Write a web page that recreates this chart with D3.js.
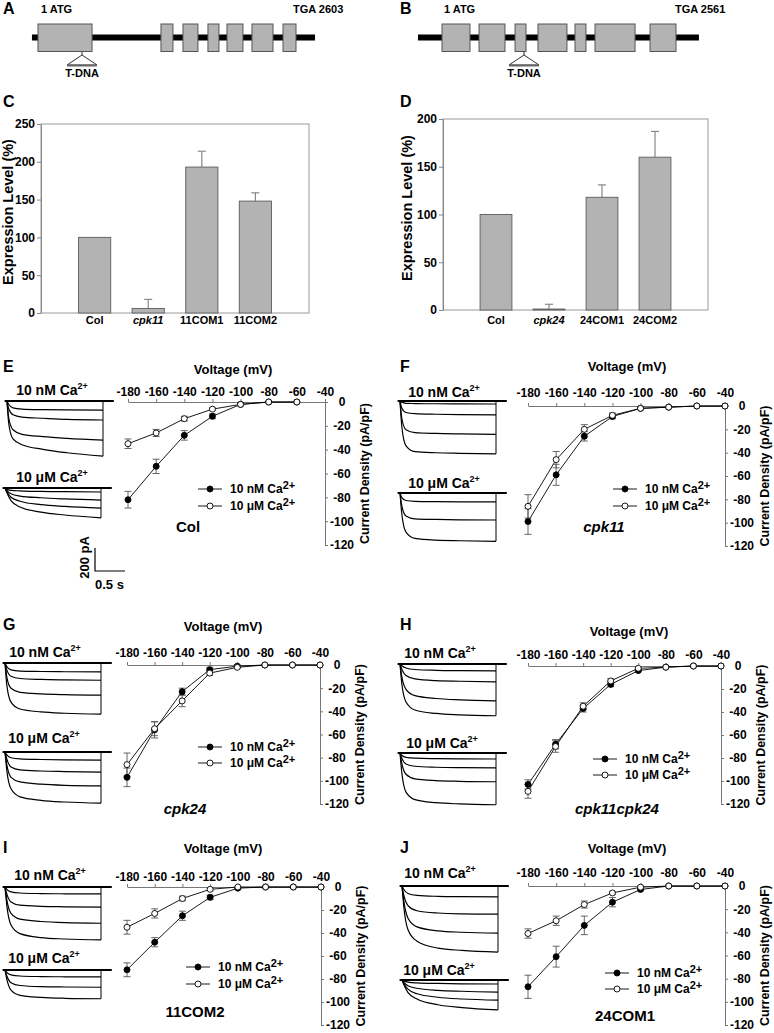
<!DOCTYPE html>
<html><head><meta charset="utf-8">
<script src="https://cdn.jsdelivr.net/npm/d3@7"></script>
<style>
body{margin:0;background:#fff}
text{font-family:"Liberation Sans",Arial,Helvetica,sans-serif;font-weight:bold;fill:#000}
</style>
</head><body>
<svg id="fig" width="774" height="1033"></svg>
<script>
// ---------------- DATA ----------------
// Gene structures (bp)
const geneA_exons = [[1,546],[1241,1362],[1463,1614],[1715,1826],[1907,2068],[2159,2371],[2472,2603]];
const geneA_span = [-60, 2795];
const geneA_tdna = 445;
const geneA_end = 2603;
const geneB_exons = [[1,307],[406,690],[800,920],[1051,1368],[1456,1576],[1675,2113],[2277,2561]];
const geneB_span = [-262, 2812];
const geneB_tdna = 898;
const geneB_end = 2561;

// Expression bar charts
const cCategories = ["Col","cpk11","11COM1","11COM2"];
const cValues = [100, 6, 193, 148];
const cErrors = [0, 12, 21, 11];
const cTicks = [0,50,100,150,200,250];
const dCategories = ["Col","cpk24","24COM1","24COM2"];
const dValues = [100, 1, 118, 160];
const dErrors = [0, 5, 13, 27];
const dTicks = [0,50,100,150,200];

// I-V curves
const voltages = [-180,-160,-140,-120,-100,-80,-60,-40];
const voltageTicks = [-180,-160,-140,-120,-100,-80,-60,-40];
const currentTicks = [0,-20,-40,-60,-80,-100,-120];

const colNM    = [-82,-54,-28,-12,-2,0,0,null];
const colNMerr = [7,6,4,2,1,0,0,null];
const colUM    = [-35,-26,-14,-6,-2,0,0,null];
const colUMerr = [4,3,2,1,1,0,0,null];

const cpk11NM    = [-99,-59,-26,-9,-2,-1,0,0];
const cpk11NMerr = [11,9,4,2,1,0,0,0];
const cpk11UM    = [-86,-46,-20,-8,-2,-1,0,0];
const cpk11UMerr = [10,7,4,2,1,0,0,0];

const cpk24NM    = [-97,-56,-23,-4,-1,0,0,0];
const cpk24NMerr = [8,7,3,2,1,0,0,0];
const cpk24UM    = [-86,-55,-31,-7,-2,0,0,0];
const cpk24UMerr = [10,6,5,2,1,0,0,0];

const dblNM    = [-103,-68,-37,-16,-4,-1,0,0];
const dblNMerr = [4,4,3,2,1,0,0,0];
const dblUM    = [-109,-70,-35,-13,-2,-1,0,0];
const dblUMerr = [6,5,3,2,1,0,0,0];

const com2NM    = [-72,-48,-25,-9,-1,0,0,0];
const com2NMerr = [6,4,4,2,1,0,0,0];
const com2UM    = [-35,-23,-10,-2,0,0,0,0];
const com2UMerr = [6,4,2,1,0,0,0,0];

const com1NM    = [-87,-61,-34,-14,-3,0,0,0];
const com1NMerr = [10,9,8,4,1,0,0,0];
const com1UM    = [-41,-30,-16,-6,-1,0,0,0];
const com1UMerr = [4,4,3,1,1,0,0,0];

// Current traces (time in s, current in pA)
const TRACE_T = [0, 0.03, 0.1, 0.25, 0.6, 1.0, 1.6];
const tracesE_nM = [[0,-30,-60,-70,-75,-78,-80],[0,-70,-120,-140,-150,-160,-165],[0,-150,-250,-290,-310,-325,-340],[0,-200,-330,-380,-420,-450,-480]];
const tracesE_uM = [[0,-10,-20,-25,-30,-32,-35],[0,-20,-50,-70,-85,-95,-105],[0,-30,-80,-115,-145,-160,-175],[0,-40,-110,-165,-210,-235,-260]];
const tracesF_nM = [[0,-10,-20,-22,-24,-25,-26],[0,-60,-100,-110,-115,-118,-120],[0,-150,-250,-275,-282,-286,-290],[0,-220,-390,-440,-450,-455,-460]];
const tracesF_uM = [[0,-40,-65,-72,-75,-77,-78],[0,-110,-200,-225,-230,-233,-235],[0,-180,-340,-395,-410,-415,-420]];
const tracesG_nM = [[0,-30,-60,-70,-74,-76,-78],[0,-60,-115,-135,-143,-147,-150],[0,-120,-220,-255,-268,-275,-280],[0,-190,-340,-400,-425,-437,-445]];
const tracesG_uM = [[0,-25,-50,-60,-65,-68,-70],[0,-60,-130,-155,-165,-170,-175],[0,-110,-220,-260,-280,-290,-295],[0,-160,-320,-390,-420,-435,-445]];
const tracesH_nM = [[0,-15,-35,-48,-55,-58,-60],[0,-45,-100,-130,-145,-150,-155],[0,-110,-220,-275,-300,-312,-320],[0,-170,-330,-400,-430,-442,-450]];
const tracesH_uM = [[0,-20,-38,-45,-49,-51,-52],[0,-45,-95,-115,-124,-128,-130],[0,-90,-185,-225,-240,-246,-250],[0,-170,-340,-405,-432,-443,-450]];
const tracesI_nM = [[0,-20,-42,-52,-57,-59,-60],[0,-60,-130,-158,-168,-172,-175],[0,-110,-230,-280,-300,-310,-315],[0,-160,-330,-405,-440,-452,-460]];
const tracesI_uM = [[0,-20,-42,-52,-57,-59,-60],[0,-50,-110,-135,-145,-148,-150],[0,-80,-175,-220,-238,-246,-250]];
const tracesJ_nM = [[0,-30,-65,-82,-90,-93,-95],[0,-80,-170,-215,-235,-242,-245],[0,-130,-280,-355,-390,-402,-410],[0,-180,-380,-480,-540,-560,-575]];
const tracesJ_uM = [[0,-8,-18,-25,-30,-33,-35],[0,-20,-50,-72,-90,-98,-105],[0,-30,-80,-120,-150,-165,-175],[0,-40,-110,-165,-215,-240,-260]];
const scaleBarCurrent = 200; // pA
const scaleBarTime = 0.5;    // s

// ---------------- DRAWING ----------------
const svg = d3.select("#fig");
svg.append("rect").attr("width",774).attr("height",1033).attr("fill","#fff");

function txt(g,x,y,s,size,anchor,italic){
  return g.append("text").attr("x",x).attr("y",y).attr("font-size",size)
    .attr("text-anchor",anchor||"start").attr("font-style",italic?"italic":"normal").text(s);
}
function caText(g,x,y,conc,size,supSize,rise,anchor){
  const t=g.append("text").attr("x",x).attr("y",y).attr("font-size",size).attr("text-anchor",anchor||"start");
  t.append("tspan").text(conc+" Ca");
  t.append("tspan").attr("font-size",supSize).attr("dy",-rise).text("2+");
  return t;
}

// panel letters
[["A",3,14],["B",400,14],["C",3,107],["D",400,107],["E",3,372],["F",400,372],
 ["G",3,630],["H",400,630],["I",3,853],["J",400,853]].forEach(d=>txt(svg,d[1],d[2],d[0],16));

// ---- gene diagrams ----
function gene(cfg, exons, span, tdna, end){
  const g=svg.append("g");
  const x=d3.scaleLinear().domain([1,end]).range([cfg.xs,cfg.xe]);
  g.append("line").attr("x1",x(span[0])).attr("x2",x(span[1])).attr("y1",37.5).attr("y2",37.5)
    .attr("stroke","#000").attr("stroke-width",6);
  g.selectAll("rect.ex").data(exons).join("rect").attr("class","ex")
    .attr("x",d=>x(d[0])).attr("width",d=>x(d[1])-x(d[0])).attr("y",24).attr("height",27.5)
    .attr("fill","#b3b3b3").attr("stroke","#555").attr("stroke-width",1);
  const xt=x(tdna);
  g.append("line").attr("x1",xt).attr("x2",xt).attr("y1",51.5).attr("y2",55).attr("stroke","#333");
  g.append("path").attr("d",`M${xt},55L${xt-15},65L${xt+15},65Z`).attr("fill","#fff").attr("stroke","#333").attr("stroke-width",1);
  g.append("line").attr("x1",xt-15).attr("x2",xt+15).attr("y1",65.5).attr("y2",65.5).attr("stroke","#666").attr("stroke-width",2);
  txt(g,xt,77,"T-DNA",11,"middle");
  txt(g,cfg.atg,13,"1 ATG",11);
  txt(g,cfg.tga,13,"TGA "+end,11);
}
gene({xs:38,xe:296,atg:41,tga:293}, geneA_exons, geneA_span, geneA_tdna, geneA_end);
gene({xs:442,xe:676,atg:444,tga:675}, geneB_exons, geneB_span, geneB_tdna, geneB_end);

// ---- bar charts ----
function barPanel(cfg, cats, vals, errs, ticks, italicIdx){
  const g=svg.append("g");
  const step=(cfg.right-cfg.left)/5;
  const x=d3.scaleBand().domain(cats).range([cfg.left+step/2,cfg.right-step/2]).paddingInner(0.4).paddingOuter(0.2);
  const y=d3.scaleLinear().domain([0,ticks[ticks.length-1]]).range([cfg.bottom,cfg.top]);
  g.append("rect").attr("x",cfg.left).attr("y",cfg.top).attr("width",cfg.right-cfg.left).attr("height",cfg.bottom-cfg.top)
    .attr("fill","none").attr("stroke","#9a9a9a").attr("stroke-width",1);
  const ax=g.append("g").attr("transform",`translate(${cfg.left},0)`)
    .call(d3.axisLeft(y).tickValues(ticks).tickSize(4).tickSizeOuter(0).tickPadding(2).tickFormat(d=>String(d)));
  ax.attr("color","#888").attr("font-family",null).attr("font-size",null);
  ax.selectAll("text").attr("font-size",12).style("fill","#000");
  cats.forEach((c,i)=>{
    if(errs[i]>0){
      const cx=x(c)+x.bandwidth()/2;
      g.append("line").attr("x1",cx).attr("x2",cx).attr("y1",y(vals[i])).attr("y2",y(vals[i]+errs[i])).attr("stroke","#888").attr("stroke-width",1.2);
      g.append("line").attr("x1",cx-4).attr("x2",cx+4).attr("y1",y(vals[i]+errs[i])).attr("y2",y(vals[i]+errs[i])).attr("stroke","#888").attr("stroke-width",1.2);
    }
  });
  g.selectAll("rect.bar").data(cats).join("rect").attr("class","bar")
    .attr("x",c=>x(c)).attr("width",x.bandwidth())
    .attr("y",(c,i)=>y(vals[i])).attr("height",(c,i)=>y(0)-y(vals[i]))
    .attr("fill","#b3b3b3").attr("stroke","#666").attr("stroke-width",1);
  cats.forEach((c,i)=>txt(g,x(c)+x.bandwidth()/2,cfg.catY,c,11,"middle",i===italicIdx));
  g.append("text").attr("transform",`translate(${cfg.titleX},${cfg.titleY}) rotate(-90)`).attr("text-anchor","middle")
    .attr("font-size",14.5).text("Expression Level (%)");
}
barPanel({left:41,right:309,top:124,bottom:313,catY:324,titleX:13,titleY:212}, cCategories,cValues,cErrors,cTicks,1);
barPanel({left:443,right:708,top:119,bottom:310,catY:324,titleX:412,titleY:208}, dCategories,dValues,dErrors,dTicks,1);

// ---- I-V panels ----
function ivPanel(cfg, nm, nmErr, um, umErr){
  const g=svg.append("g");
  const x=d3.scaleLinear().domain([-180,-40]).range([cfg.x0,cfg.x1]);
  const y=d3.scaleLinear().domain([0,-120]).range([cfg.y0,cfg.y1]);
  const xa=g.append("g").attr("transform",`translate(0,${cfg.y0})`)
    .call(d3.axisTop(x).tickValues(voltageTicks).tickSize(3).tickSizeOuter(0).tickFormat(d=>String(d)));
  xa.attr("color","#777").attr("font-family",null).attr("font-size",null);
  xa.selectAll("text").attr("font-size",12).style("fill","#000").attr("y",cfg.tickY-cfg.y0).attr("dy",null);
  const ya=g.append("g").attr("transform",`translate(${cfg.x1},0)`)
    .call(d3.axisRight(y).tickValues(currentTicks).tickSize(3).tickSizeOuter(0).tickFormat(d=>String(d)));
  ya.attr("color","#777").attr("font-family",null).attr("font-size",null);
  ya.selectAll("text").attr("font-size",12).style("fill","#000").attr("text-anchor","middle").attr("x",17);
  txt(g,cfg.titleX,cfg.titleY,"Voltage (mV)",13,"middle");
  g.append("text").attr("transform",`translate(${cfg.x1+44},${(cfg.y0+cfg.y1)/2}) rotate(-90)`)
    .attr("text-anchor","middle").attr("font-size",12.5).text("Current Density (pA/pF)");

  const line=d3.line().defined(d=>d.v!==null).x(d=>x(d.x)).y(d=>y(d.v));
  const mk=(vals,errs)=>voltages.map((v,i)=>({x:v,v:vals[i],e:errs[i]}));
  const series=[{d:mk(nm,nmErr),fill:"#000"},{d:mk(um,umErr),fill:"#fff"}];
  series.forEach(s=>{
    g.append("path").attr("d",line(s.d)).attr("fill","none").attr("stroke","#000").attr("stroke-width",0.9);
  });
  series.forEach(s=>{
    s.d.filter(p=>p.v!==null&&p.e>0).forEach(p=>{
      const cx=x(p.x), t=y(p.v+p.e), b=y(p.v-p.e);
      g.append("line").attr("x1",cx).attr("x2",cx).attr("y1",t).attr("y2",b).attr("stroke","#555").attr("stroke-width",0.9);
      [t,b].forEach(yy=>g.append("line").attr("x1",cx-3.5).attr("x2",cx+3.5).attr("y1",yy).attr("y2",yy).attr("stroke","#555").attr("stroke-width",0.9));
    });
  });
  series.forEach(s=>{
    g.selectAll(null).data(s.d.filter(p=>p.v!==null)).join("circle")
      .attr("cx",p=>x(p.x)).attr("cy",p=>y(p.v)).attr("r",3)
      .attr("fill",s.fill).attr("stroke","#000").attr("stroke-width",0.9);
  });
  [["10 nM","#000"],["10 \u03BCM","#fff"]].forEach((l,i)=>{
    const ly=cfg.legY[i];
    g.append("line").attr("x1",cfg.legX-32).attr("x2",cfg.legX-8).attr("y1",ly).attr("y2",ly).attr("stroke","#000").attr("stroke-width",0.9);
    g.append("circle").attr("cx",cfg.legX-20).attr("cy",ly).attr("r",3).attr("fill",l[1]).attr("stroke","#000").attr("stroke-width",0.9);
    caText(g,cfg.legX,ly+4.3,l[0],12,11,4,"start");
  });
  txt(g,cfg.genoX,cfg.genoY,cfg.geno,15,"middle",cfg.italic);
}

// ---- current traces ----
const PX_PER_S = 60, PX_PER_PA = 0.115;
function tracePanel(cfg, traces, conc){
  const g=svg.append("g");
  const t=d3.scaleLinear().domain([0,1]).range([cfg.x, cfg.x+PX_PER_S]);
  const c=d3.scaleLinear().domain([0,-100]).range([cfg.y, cfg.y+100*PX_PER_PA]);
  const ln=d3.line().x((d,i)=>t(TRACE_T[i])).y(d=>c(d)).curve(d3.curveMonotoneX);
  traces.forEach(tr=>g.append("path").attr("d",ln(tr)).attr("fill","none").attr("stroke","#000").attr("stroke-width",1.2));
  const minV=d3.min(traces,tr=>d3.min(tr));
  const tEnd=TRACE_T[TRACE_T.length-1];
  g.append("line").attr("x1",t(tEnd)).attr("x2",t(tEnd)).attr("y1",c(0)).attr("y2",c(minV)).attr("stroke","#000").attr("stroke-width",1);
  g.append("line").attr("x1",t(-0.04)).attr("x2",t(tEnd+0.18)).attr("y1",c(0)).attr("y2",c(0)).attr("stroke","#000").attr("stroke-width",2.2);
  caText(g,cfg.lx,cfg.ly,conc,14,9,6,"middle");
}

const panels=[
 {iv:{x0:128,x1:325,y0:402,y1:545,tickY:396,titleX:233,titleY:374,legX:230,legY:[489,506],genoX:188,genoY:532,geno:"Col",italic:false},
  data:[colNM,colNMerr,colUM,colUMerr],
  tr:[{x:7,y:401,lx:52,ly:395},{x:5,y:488,lx:52,ly:482}], traces:[tracesE_nM,tracesE_uM]},
 {iv:{x0:528,x1:725,y0:406,y1:546,tickY:397,titleX:627,titleY:371,legX:645,legY:[489,506],genoX:604,genoY:532,geno:"cpk11",italic:true},
  data:[cpk11NM,cpk11NMerr,cpk11UM,cpk11UMerr],
  tr:[{x:400,y:401,lx:444,ly:397},{x:400,y:493,lx:444,ly:488}], traces:[tracesF_nM,tracesF_uM]},
 {iv:{x0:127,x1:320,y0:665,y1:804,tickY:657,titleX:223,titleY:631,legX:230,legY:[747,763],genoX:185,genoY:814,geno:"cpk24",italic:true},
  data:[cpk24NM,cpk24NMerr,cpk24UM,cpk24UMerr],
  tr:[{x:5,y:663,lx:45,ly:657},{x:5,y:752,lx:44,ly:743}], traces:[tracesG_nM,tracesG_uM]},
 {iv:{x0:528,x1:721,y0:666,y1:804,tickY:659,titleX:629,titleY:636,legX:625,legY:[759,775],genoX:617,genoY:814,geno:"cpk11cpk24",italic:true},
  data:[dblNM,dblNMerr,dblUM,dblUMerr],
  tr:[{x:400,y:664,lx:440,ly:658},{x:400,y:753,lx:442,ly:748}], traces:[tracesH_nM,tracesH_uM]},
 {iv:{x0:127,x1:321,y0:887,y1:1025,tickY:881,titleX:223,titleY:853,legX:218,legY:[967,984],genoX:195,genoY:1017,geno:"11COM2",italic:false},
  data:[com2NM,com2NMerr,com2UM,com2UMerr],
  tr:[{x:5,y:887,lx:50,ly:880},{x:5,y:970,lx:44,ly:963}], traces:[tracesI_nM,tracesI_uM]},
 {iv:{x0:528,x1:725,y0:886,y1:1025,tickY:877,titleX:627,titleY:853,legX:637,legY:[973,989],genoX:625,genoY:1021,geno:"24COM1",italic:false},
  data:[com1NM,com1NMerr,com1UM,com1UMerr],
  tr:[{x:402,y:886,lx:440,ly:878},{x:402,y:980,lx:439,ly:975}], traces:[tracesJ_nM,tracesJ_uM]}
];
panels.forEach(p=>{
  ivPanel(p.iv,...p.data);
  tracePanel(p.tr[0],p.traces[0],"10 nM");
  tracePanel(p.tr[1],p.traces[1],"10 \u03BCM");
});

// scale bar
(function(){
  const g=svg.append("g");
  const x0=95, yb=571;
  const t=d3.scaleLinear().domain([0,1]).range([x0,x0+PX_PER_S]);
  const c=d3.scaleLinear().domain([0,100]).range([yb,yb-100*PX_PER_PA]);
  g.append("path").attr("d",`M${t(0)},${c(scaleBarCurrent)}L${t(0)},${c(0)}L${t(scaleBarTime)},${c(0)}`)
    .attr("fill","none").attr("stroke","#000").attr("stroke-width",1.2);
  g.append("text").attr("transform",`translate(${x0-6},${c(scaleBarCurrent/2)-2}) rotate(-90)`).attr("text-anchor","middle")
    .attr("font-size",13).text("200 pA");
  txt(g,x0,589,"0.5 s",13,"start");
})();
</script>
</body></html>
